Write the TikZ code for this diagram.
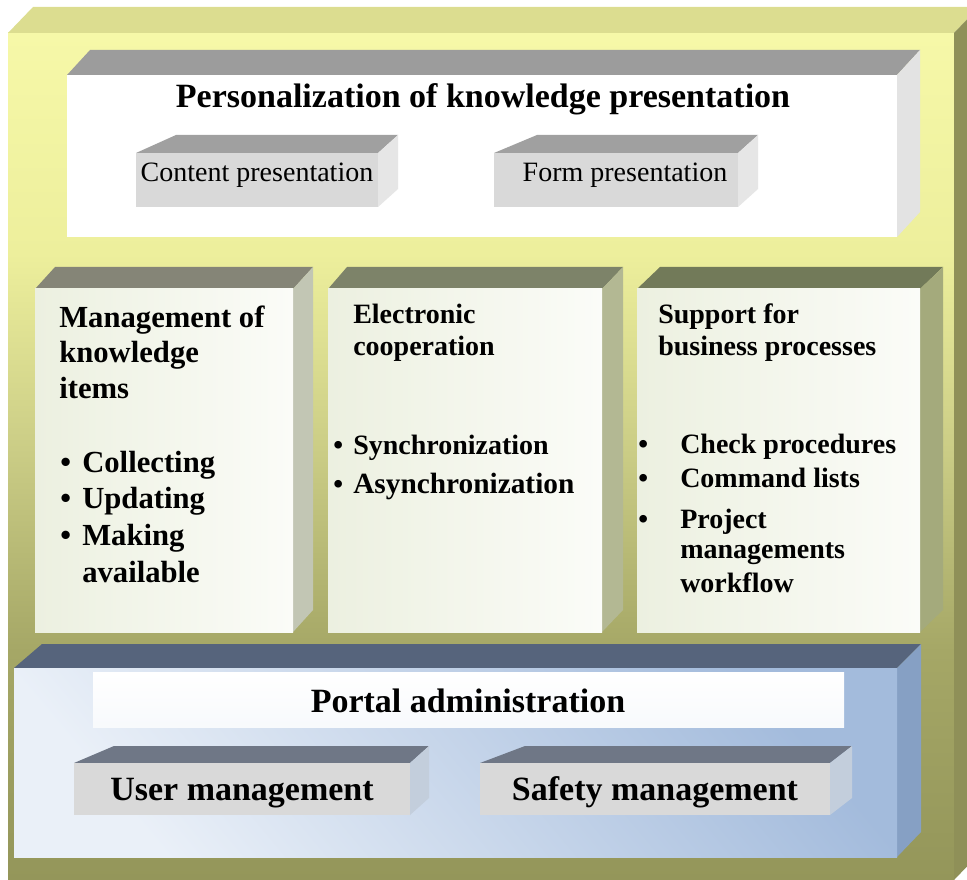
\documentclass[tikz,border=0pt]{standalone}
\usepackage{fontspec}
\setmainfont{Liberation Serif}

\definecolor{frameTop}{HTML}{DCDD90}
\definecolor{frameSide}{HTML}{8F9058}
\definecolor{frameA}{HTML}{94965A}
\definecolor{frameB}{HTML}{A5A766}
\definecolor{frameC}{HTML}{CBCD86}
\definecolor{frameD}{HTML}{EDEF9C}
\definecolor{frameE}{HTML}{F6F8A8}
\definecolor{greyTop}{HTML}{9C9C9C}
\definecolor{greySide}{HTML}{E3E3E3}
\definecolor{keyFront}{HTML}{D9D9D9}
\definecolor{keyTop}{HTML}{A0A0A0}
\definecolor{keySide}{HTML}{E6E6E6}
\definecolor{colTopA}{HTML}{858577}
\definecolor{colTopB}{HTML}{7D8369}
\definecolor{colTopC}{HTML}{727A59}
\definecolor{colSideA}{HTML}{C2C6B4}
\definecolor{colSideB}{HTML}{B3B893}
\definecolor{colSideC}{HTML}{A4AA7C}
\definecolor{colLeft}{HTML}{ECF0E0}
\definecolor{colRight}{HTML}{FBFCF8}
\definecolor{admTop}{HTML}{56647C}
\definecolor{admSide}{HTML}{86A0C4}
\definecolor{admDark}{HTML}{A3BBDC}
\definecolor{admLight}{HTML}{EAF0F8}
\definecolor{mgmTop}{HTML}{6F7786}
\definecolor{mgmSide}{HTML}{C3CEDC}

\pgfdeclareverticalshading{framefront}{100bp}{color(0bp)=(frameA); color(25bp)=(frameA); color(38.5bp)=(frameB); color(50.5bp)=(frameC); color(62bp)=(frameD); color(75bp)=(frameE); color(100bp)=(frameE)}

\tikzset{
  ttl/.style={anchor=base, inner sep=0pt, font=\fontsize{25.5pt}{30pt}\selectfont\bfseries},
  keytxt/.style={anchor=base, inner sep=0pt, font=\fontsize{21pt}{25pt}\selectfont},
  colA/.style={anchor=base west, inner sep=0pt, font=\fontsize{23pt}{27pt}\selectfont\bfseries},
  colB/.style={anchor=base west, inner sep=0pt, font=\fontsize{21pt}{25pt}\selectfont\bfseries},
  mgmtxt/.style={anchor=base, inner sep=0pt, font=\fontsize{25.5pt}{30pt}\selectfont\bfseries}
}

\begin{document}
\begin{tikzpicture}[x=0.75pt,y=0.75pt,yscale=-1,xscale=1]
\useasboundingbox (0,0) rectangle (967,880);
\clip (0,0) rectangle (967,880);

%Shape: Frame front
\fill [shading=framefront] (8,33) rectangle (954,880) ;
%Shape: Frame top
\fill [frameTop] (8,33) -- (33,7) -- (979,7) -- (954,33) -- cycle ;
%Shape: Frame side
\fill [frameSide] (954,33) -- (979,7) -- (979,854) -- (954,880) -- cycle ;

%Shape: Presentation box
\fill [greyTop] (67,75) -- (90,50) -- (920,50) -- (897,75) -- cycle ;
\fill [greySide] (897,75) -- (920,50) -- (920,212) -- (897,237) -- cycle ;
\fill [white] (67,75) rectangle (897,237) ;
%Shape: Content box
\fill [keyTop] (136,153) -- (176,135) -- (398,135) -- (378,153) -- cycle ;
\fill [keySide] (378,153) -- (398,135) -- (398,189) -- (378,207) -- cycle ;
\fill [keyFront] (136,153) rectangle (378,207) ;
%Shape: Form box
\fill [keyTop] (494,153) -- (537,135) -- (758,135) -- (738,153) -- cycle ;
\fill [keySide] (738,153) -- (758,135) -- (758,189) -- (738,207) -- cycle ;
\fill [keyFront] (494,153) rectangle (738,207) ;

%Shape: Items box
\fill [colTopA] (35,289) -- (55,267) -- (313,267) -- (293,289) -- cycle ;
\fill [colSideA] (293,289) -- (313,267) -- (313,610) -- (293,632) -- cycle ;
\fill [left color=colLeft, right color=colRight] (35,289) rectangle (293,632) ;
%Shape: Cooperation box
\fill [colTopB] (328,289) -- (347,267) -- (623,267) -- (602,289) -- cycle ;
\fill [colSideB] (602,289) -- (623,267) -- (623,610) -- (602,632) -- cycle ;
\fill [left color=colLeft, right color=colRight] (328,289) rectangle (602,632) ;
%Shape: Business box
\fill [colTopC] (637,289) -- (660,267) -- (943,267) -- (920,289) -- cycle ;
\fill [colSideC] (920,289) -- (943,267) -- (943,610) -- (920,632) -- cycle ;
\fill [left color=colLeft, right color=colRight] (637,289) rectangle (920,632) ;

%Shape: Administration box
\fill [admTop] (14,668) -- (42,644) -- (921,644) -- (897,668) -- cycle ;
\fill [admSide] (897,668) -- (921,644) -- (921,832) -- (897,857) -- cycle ;
\fill [top color=admDark, bottom color=admLight, shading angle=-50] (14,668) rectangle (897,857) ;
\fill [top color=white, bottom color=white!92!admDark] (93,672) rectangle (844,727) ;
%Shape: User box
\fill [mgmTop] (74,763) -- (114,746) -- (429,746) -- (410,763) -- cycle ;
\fill [mgmSide] (410,763) -- (429,746) -- (429,798) -- (410,815) -- cycle ;
\fill [keyFront] (74,763) rectangle (410,815) ;
%Shape: Safety box
\fill [mgmTop] (480,763) -- (525,746) -- (852,746) -- (830,763) -- cycle ;
\fill [mgmSide] (830,763) -- (852,746) -- (852,798) -- (830,815) -- cycle ;
\fill [keyFront] (480,763) rectangle (830,815) ;

% Text Node
\draw (483,108) node [ttl] (title) {Personalization of knowledge presentation};
% Text Node
\draw (257,182) node [keytxt] (content) {Content presentation};
% Text Node
\draw (625,182) node [keytxt] (form) {Form presentation};

% Text Node
\draw (59,328) node [colA] (items1) {Management of};
\draw (59,363) node [colA] (items2) {knowledge};
\draw (59,398) node [colA] (items3) {items};
\draw (60,472) node [colA] (dotA1) {\textbullet};
\draw (60,508) node [colA] (dotA2) {\textbullet};
\draw (60,545) node [colA] (dotA3) {\textbullet};
\draw (82,472) node [colA] (collect) {Collecting};
\draw (82,508) node [colA] (update) {Updating};
\draw (82,545) node [colA] (making) {Making};
\draw (82,582) node [colA] (avail) {available};

% Text Node
\draw (353,324) node [colB] (coop1) {Electronic};
\draw (353,356) node [colB] (coop2) {cooperation};
\draw (333,454) node [colB] (dotB1) {\textbullet};
\draw (333,493) node [colB] (dotB2) {\textbullet};
\draw (353,454) node [colB] (sync) {Synchronization};
\draw (353,493) node [colB, font=\fontsize{22pt}{26pt}\selectfont\bfseries] (async) {Asynchronization};

% Text Node
\draw (658,324) node [colB] (biz1) {Support for};
\draw (658,356) node [colB] (biz2) {business processes};
\draw (638,453) node [colB] (dotC1) {\textbullet};
\draw (638,487) node [colB] (dotC2) {\textbullet};
\draw (638,528) node [colB] (dotC3) {\textbullet};
\draw (680,453) node [colB] (check) {Check procedures};
\draw (680,487) node [colB] (cmd) {Command lists};
\draw (680,528) node [colB] (proj1) {Project};
\draw (680,558) node [colB] (proj2) {managements};
\draw (680,592) node [colB] (proj3) {workflow};

% Text Node
\draw (468,712) node [mgmtxt] (portal) {Portal administration};
\draw (242,800) node [mgmtxt] (user) {User management};
\draw (655,800) node [mgmtxt] (safety) {Safety management};

\end{tikzpicture}
\end{document}
